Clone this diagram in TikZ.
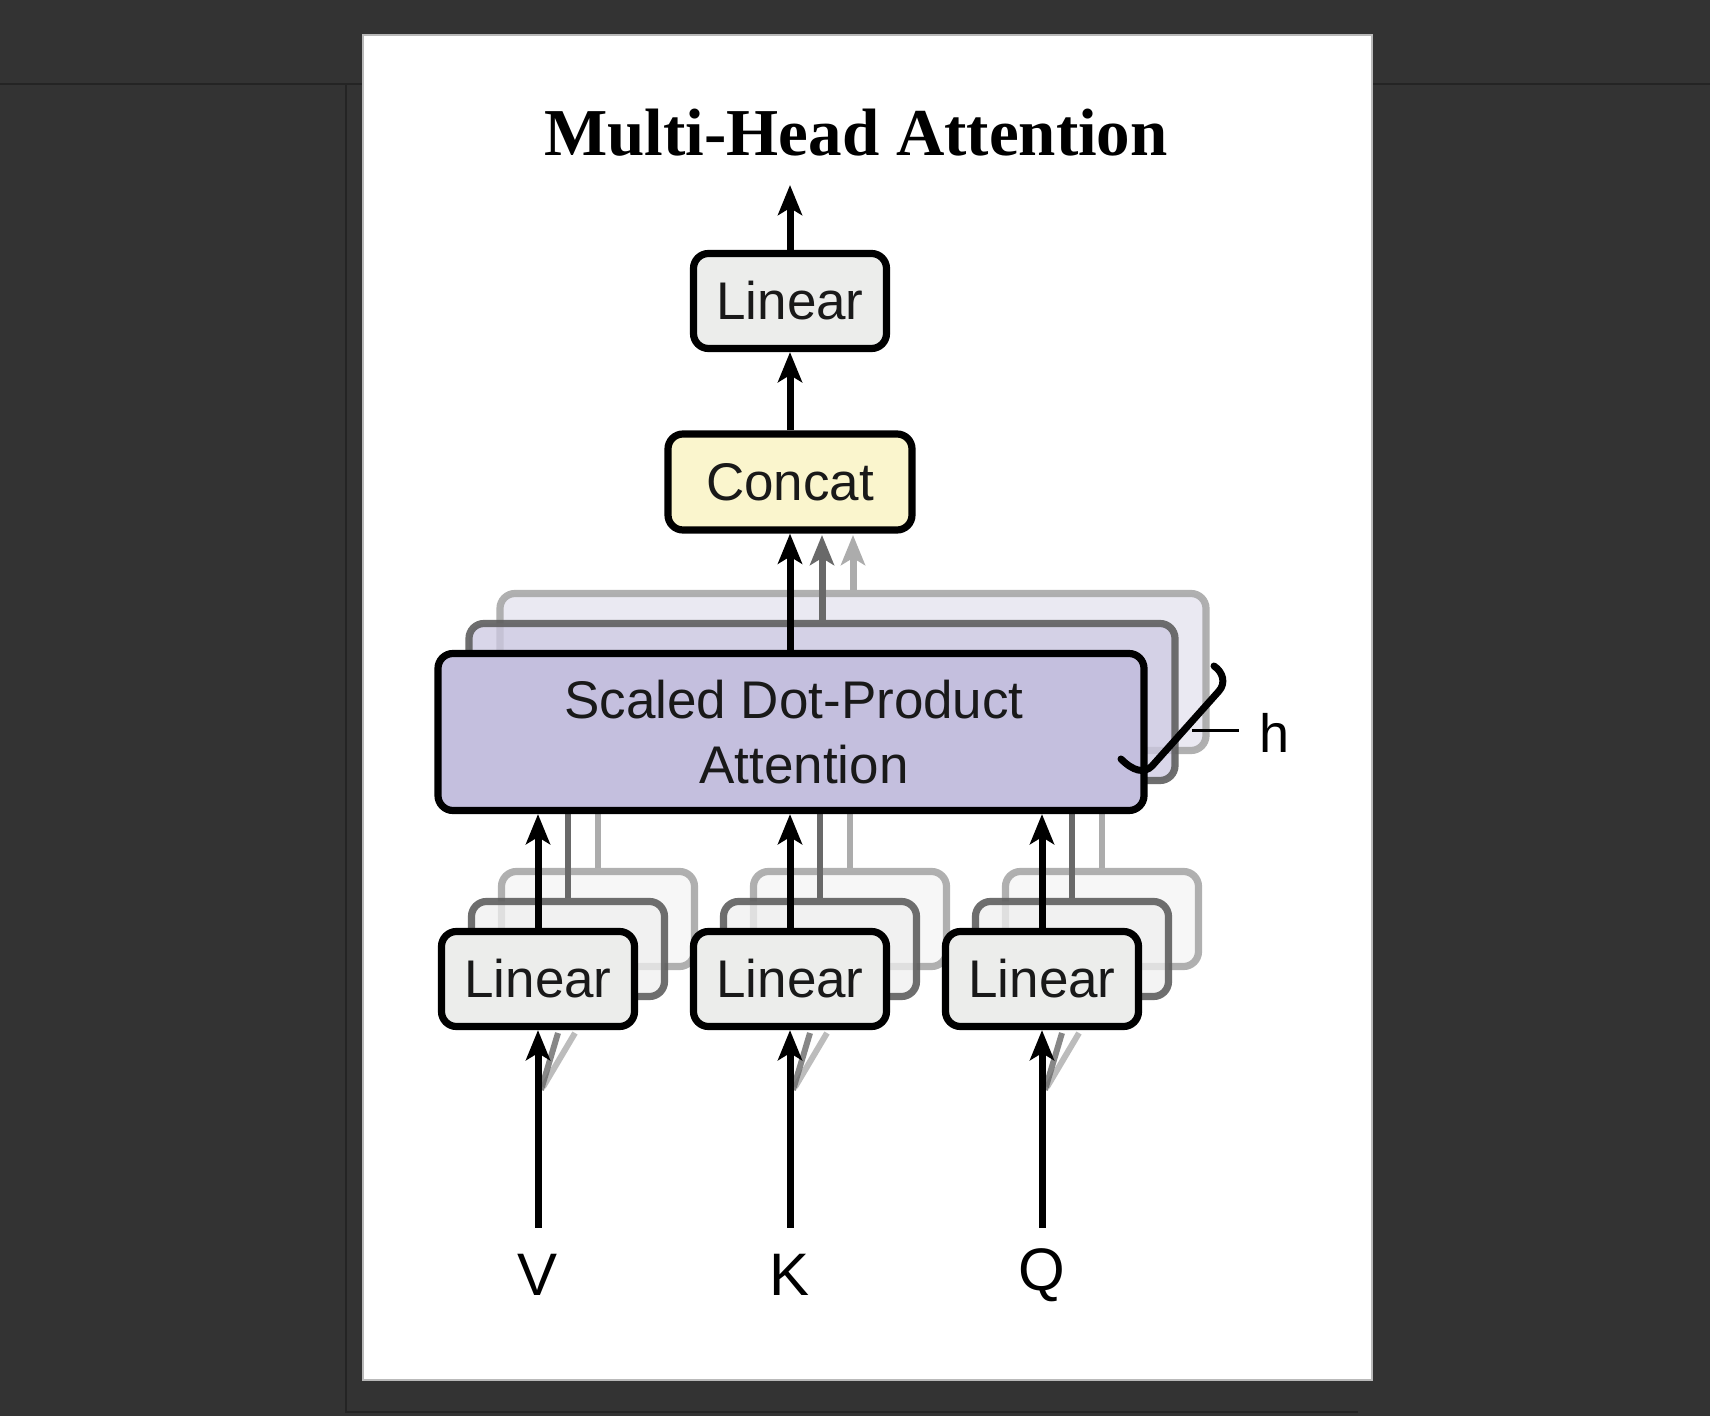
\documentclass[tikz,border=0pt]{standalone}
\usepackage{fontspec}
\setmainfont{Liberation Serif}
\setsansfont{Liberation Sans}
\usetikzlibrary{arrows.meta}

\tikzset{every picture/.style={line width=0.75pt}}
\tikzset{
  box/.style={draw, rounded corners=7.5pt, line width=3.6pt, inner sep=0pt,
    font=\sffamily\fontsize{26.5}{32.5}\selectfont, text={rgb, 255:red, 25; green, 25; blue, 25}},
  linbox/.style={box, fill={rgb, 255:red, 236; green, 237; blue, 235}, minimum width=96.5pt, minimum height=47.5pt},
  catbox/.style={box, fill={rgb, 255:red, 250; green, 245; blue, 205}, minimum width=122pt, minimum height=48pt},
  attbox/.style={box, fill={rgb, 255:red, 196; green, 191; blue, 222}, minimum width=353pt, minimum height=78.5pt, align=center},
  ghostnear/.style={draw={rgb, 255:red, 95; green, 95; blue, 95}, draw opacity=0.9, fill opacity=0.75},
  ghostfar/.style={draw={rgb, 255:red, 168; green, 168; blue, 168}, draw opacity=0.9},
  flow/.style={line width=3.5pt, -{Stealth[length=15pt, width=12pt, inset=3.5pt]}},
  flownear/.style={flow, color={rgb, 255:red, 105; green, 105; blue, 105}},
  flowfar/.style={flow, color={rgb, 255:red, 172; green, 172; blue, 172}},
  wire/.style={line width=3pt}
}

\begin{document}
\begin{tikzpicture}[x=0.5pt,y=0.5pt,yscale=-1,xscale=1]
\useasboundingbox (0,0) rectangle (1710,1416);

%Shape: Rectangle [backdrop]
\fill [color={rgb, 255:red, 51; green, 51; blue, 51 }] (0,0) rectangle (1710,1416) ;
%Straight Lines [page behind]
\draw [color={rgb, 255:red, 36; green, 36; blue, 36 }, line width=1pt] (0,84) -- (1710,84) ;
\draw [color={rgb, 255:red, 36; green, 36; blue, 36 }, line width=1pt] (346,84) -- (346,1412) -- (1358,1412) ;
%Shape: Rectangle [page]
\draw [color={rgb, 255:red, 185; green, 185; blue, 185 }, fill=white, line width=1pt] (363,35) rectangle (1372,1380) ;

% Text Node
\node [font=\fontsize{33.5}{40}\selectfont\bfseries] (title) at (856,133) {Multi-Head Attention};

%Shape: Rounded Rect [heads, far]
\node [attbox, ghostfar, fill={rgb, 255:red, 234; green, 233; blue, 242 }] (sdpaC) at (853,672) {};
\draw [flowfar] (sdpaC.north) -- (sdpaC.north |- 0,535) coordinate (tipC) ;
%Shape: Rounded Rect [heads, near]
\node [attbox, ghostnear, fill={rgb, 255:red, 205; green, 201; blue, 226 }] (sdpaB) at (822,702) {};
\draw [flownear] (sdpaB.north) -- (sdpaB.north |- tipC) ;

%Shape: Rounded Rect [linear heads, far]
\node [linbox, ghostfar, fill={rgb, 255:red, 247; green, 247; blue, 247 }] (linVc) at (598,919) {};
\node [linbox, ghostfar, fill={rgb, 255:red, 247; green, 247; blue, 247 }] (linKc) at (850,919) {};
\node [linbox, ghostfar, fill={rgb, 255:red, 247; green, 247; blue, 247 }] (linQc) at (1102,919) {};
\draw [wire, color={rgb, 255:red, 172; green, 172; blue, 172 }] (linVc.north) -- (linVc.north |- 0,760) ;
\draw [wire, color={rgb, 255:red, 172; green, 172; blue, 172 }] (linKc.north) -- (linKc.north |- 0,760) ;
\draw [wire, color={rgb, 255:red, 172; green, 172; blue, 172 }] (linQc.north) -- (linQc.north |- 0,760) ;
%Shape: Rounded Rect [linear heads, near]
\node [linbox, ghostnear, fill={rgb, 255:red, 240; green, 240; blue, 240 }] (linVb) at (568,949) {};
\node [linbox, ghostnear, fill={rgb, 255:red, 240; green, 240; blue, 240 }] (linKb) at (820,949) {};
\node [linbox, ghostnear, fill={rgb, 255:red, 240; green, 240; blue, 240 }] (linQb) at (1072,949) {};
\draw [wire, color={rgb, 255:red, 105; green, 105; blue, 105 }] (linVb.north) -- (linVb.north |- 0,760) ;
\draw [wire, color={rgb, 255:red, 105; green, 105; blue, 105 }] (linKb.north) -- (linKb.north |- 0,760) ;
\draw [wire, color={rgb, 255:red, 105; green, 105; blue, 105 }] (linQb.north) -- (linQb.north |- 0,760) ;

%Shape: Rounded Rect
\node [attbox] (sdpa) at (791,732) {\hspace*{3pt}Scaled Dot-Product\\\hspace*{13pt}Attention};
\node [catbox] (concat) at (790,482) {Concat};
\node [linbox] (linT) at (790,301) {Linear};
\node [linbox] (linV) at (538,979) {Linear};
\node [linbox] (linK) at (790,979) {Linear};
\node [linbox] (linQ) at (1042,979) {Linear};

% Text Node
\node [font=\sffamily\fontsize{30}{36}\selectfont] (inV) at (538,1275) {V};
\node [font=\sffamily\fontsize{30}{36}\selectfont] (inK) at (790,1275) {K};
\node [font=\sffamily\fontsize{30}{36}\selectfont] (inQ) at (1042,1275) {Q};
\coordinate (srcV) at (538,1228);
\coordinate (srcK) at (790,1228);
\coordinate (srcQ) at (1042,1228);
\coordinate (out) at (790,185);

%Straight Lines [ghost inputs]
\draw [wire, color={rgb, 255:red, 172; green, 172; blue, 172 }, opacity=0.8] (543,1087) -- (575,1033) ;
\draw [wire, color={rgb, 255:red, 105; green, 105; blue, 105 }, opacity=0.8] (541,1090) -- (558,1033) ;
\draw [wire, color={rgb, 255:red, 172; green, 172; blue, 172 }, opacity=0.8] (795,1087) -- (827,1033) ;
\draw [wire, color={rgb, 255:red, 105; green, 105; blue, 105 }, opacity=0.8] (793,1090) -- (810,1033) ;
\draw [wire, color={rgb, 255:red, 172; green, 172; blue, 172 }, opacity=0.8] (1047,1087) -- (1079,1033) ;
\draw [wire, color={rgb, 255:red, 105; green, 105; blue, 105 }, opacity=0.8] (1045,1090) -- (1062,1033) ;

%Straight Lines [arrows]
\draw [flow] (srcV) -- (linV.south) ;
\draw [flow] (srcK) -- (linK.south) ;
\draw [flow] (srcQ) -- (linQ.south) ;
\draw [flow] (linV.north) -- (linV.north |- sdpa.south) ;
\draw [flow] (linK.north) -- (linK.north |- sdpa.south) ;
\draw [flow] (linQ.north) -- (linQ.north |- sdpa.south) ;
\draw [flow] (concat.south |- sdpa.north) -- (concat.south) ;
\draw [flow] (concat.north) -- (linT.south) ;
\draw [flow] (linT.north) -- (out) ;

%Shape: Brace [h]
\draw [line width=3.5pt, line cap=round] (1121,759) .. controls (1133,771) and (1144,774) .. (1152,766) -- (1219,691) .. controls (1226,683) and (1223,672) .. (1214,666) ;
% Text Node
\node [font=\sffamily\fontsize{27}{32}\selectfont, anchor=west, inner sep=0pt] (hlab) at (1259,733) {h};
\draw [line width=1.5pt] (1192,731) -- ([xshift=-10pt]hlab.west |- 0,731) ;

\end{tikzpicture}
\end{document}
